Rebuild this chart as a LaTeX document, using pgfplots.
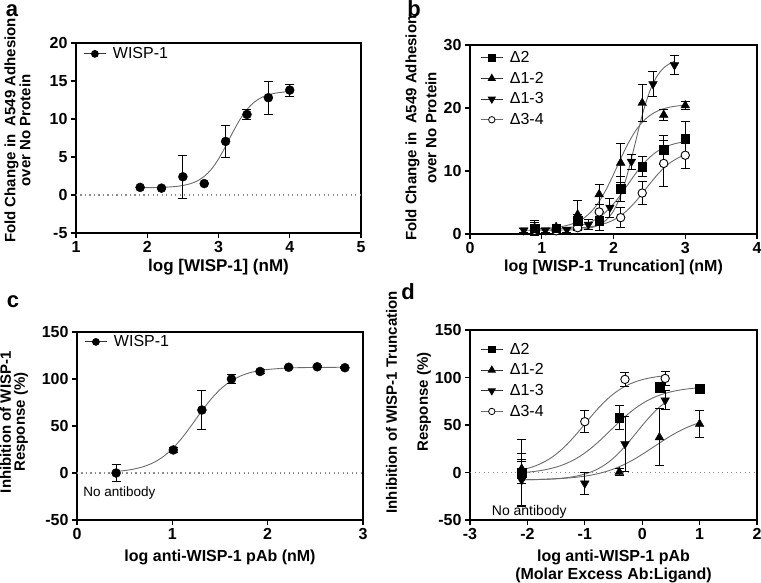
\documentclass[border=0pt]{standalone}
\usepackage{fontspec}
\setmainfont{Liberation Sans}
\usepackage{pgfplots}
\pgfplotsset{compat=1.18}

\definecolor{curve}{gray}{0.42}
\definecolor{zeroline}{gray}{0.55}
\definecolor{legline}{gray}{0.2}

\pgfplotsset{
  panel/.style={
    scale only axis,
    anchor=south west,
    clip=false,
    axis line style={line width=1.3pt, black},
    tick align=outside,
    tick pos=left,
    major tick length=5pt,
    tick style={line width=1.1pt, black},
    /pgf/number format/assume math mode=true,
    tick label style={font=\fontsize{16}{16}\selectfont\bfseries},
    xlabel style={font=\fontsize{16}{18}\selectfont\bfseries, align=center, anchor=center},
    ylabel style={font=\fontsize{15}{14}\selectfont\bfseries, align=center, anchor=center},
    legend style={draw=none, fill=none, font=\fontsize{16}{16}\selectfont,
      anchor=north west, row sep=5pt, inner sep=0pt, nodes={inner sep=1.5pt},
      /tikz/every odd column/.append style={column sep=5pt}},
    legend cell align=left,
    legend image code/.code={\draw[mark repeat=2,mark phase=2] plot coordinates {(0pt,0pt)(11pt,0pt)(22pt,0pt)};},
  },
  fit/.style={curve, line width=0.9pt, no markers, smooth, forget plot},
  zero/.style={zeroline, line width=1.3pt, dash pattern=on 1.3pt off 3.2pt, forget plot},
  pts/.style={only marks, black, forget plot,
    /pgfplots/error bars/y dir=both,
    /pgfplots/error bars/y explicit,
    /pgfplots/error bars/error bar style={line width=0.9pt, black},
    /pgfplots/error bars/error mark options={rotate=90, mark size=4.5pt, line width=0.9pt, black}},
  circ/.style={mark=*, mark size=4.5pt, mark options={solid, fill=black, draw=black}},
  ocirc/.style={mark=*, mark size=4.2pt, mark options={solid, fill=white, draw=black, line width=0.9pt}},
  sq/.style={mark=square*, mark size=4.3pt, mark options={solid, fill=black, draw=black}},
  tup/.style={mark=triangle*, mark size=5pt, mark options={solid, fill=black, draw=black}},
  tdn/.style={mark=triangle*, mark size=5pt, mark options={solid, fill=black, draw=black, rotate=180}},
  leg/.style={legline, line width=1.1pt},
  lcirc/.style={mark=*, mark size=3.3pt, mark options={solid, fill=black, draw=black}},
  locirc/.style={mark=*, mark size=3.2pt, mark options={solid, fill=white, draw=black, line width=0.8pt}},
  lsq/.style={mark=square*, mark size=3.2pt, mark options={solid, fill=black, draw=black}},
  ltup/.style={mark=triangle*, mark size=3.8pt, mark options={solid, fill=black, draw=black}},
  ltdn/.style={mark=triangle*, mark size=3.8pt, mark options={solid, fill=black, draw=black, rotate=180}},
}

% ---------------- data ----------------
\pgfplotstableread{
x y e
1.9 1.0 0
2.2 0.9 0
2.5 2.4 2.85
2.8 1.5 0
3.1 7.05 2.05
3.4 10.6 0.65
3.7 12.8 2.2
4.0 13.8 0.8
}\dataA

\pgfplotstableread{
x y e
0.9 0.9 1.0
1.2 0.9 0.4
1.5 2.1 1.0
1.8 2.1 1.5
2.1 7.2 2.0
2.4 10.7 1.6
2.7 13.4 2.3
3.0 15.1 2.7
}\dataBdA

\pgfplotstableread{
x y e
0.9 1.0 1.2
1.2 1.1 0.4
1.5 3.1 2.3
1.8 6.3 1.6
2.1 11.3 3.1
2.4 20.8 2.9
2.7 18.9 0.8
3.0 20.4 0.6
}\dataBdB

\pgfplotstableread{
x y e
0.75 0.6 0.3
1.05 0.6 0.3
1.35 0.7 0.4
1.65 1.5 0.8
1.95 4.2 1.5
2.25 11.5 1.2
2.55 23.8 2.0
2.85 26.8 1.5
}\dataBdC

\pgfplotstableread{
x y e
0.9 0.6 0.4
1.2 0.5 0.3
1.5 1.0 0.5
1.8 3.5 1.2
2.1 2.6 1.6
2.4 6.5 1.8
2.7 11.2 3.7
3.0 12.5 2.1
}\dataBdD

\pgfplotstableread{
x y e
0.41 0 9
1.01 24.5 3
1.31 67 20.5
1.62 100 5
1.92 108 2
2.22 112.5 1
2.52 113 1
2.81 112 1
}\dataC

\pgfplotstableread{
x y e
-2.1 0 35
-0.4 57.7 12.5
0.3 89.3 5
1.0 88 3
}\dataDdA

\pgfplotstableread{
x y e
-2.1 4 10
-0.4 0.5 4
0.3 37 30
1.0 51 14
}\dataDdB

\pgfplotstableread{
x y e
-2.1 -8 28
-1.0 -11.5 11.5
-0.3 30 29
0.4 76 10
}\dataDdC

\pgfplotstableread{
x y e
-2.1 0 12
-1.0 53.5 11.7
-0.3 98 7
0.4 99 7
}\dataDdD

\begin{document}
\begin{tikzpicture}
\path[use as bounding box] (0pt,0pt) rectangle (761pt,583pt);

% panel labels
\node[font=\fontsize{22}{22}\selectfont\bfseries, anchor=base, inner sep=0pt] at (12pt,566pt) {a};
\node[font=\fontsize{22}{22}\selectfont\bfseries, anchor=base, inner sep=0pt] at (414pt,566pt) {b};
\node[font=\fontsize{22}{22}\selectfont\bfseries, anchor=base, inner sep=0pt] at (13pt,275pt) {c};
\node[font=\fontsize{22}{22}\selectfont\bfseries, anchor=base, inner sep=0pt] at (408pt,283pt) {d};

% ---------------- panel a ----------------
\begin{axis}[panel, at={(76pt,350pt)}, width=285pt, height=190pt,
  xmin=1, xmax=5, ymin=-5, ymax=20,
  xtick={1,2,3,4,5}, ytick={-5,0,5,10,15,20},
  xlabel={log [WISP-1] (nM)},
  xlabel style={at={(axis description cs:0.5,-0.18)}, font=\fontsize{17}{18}\selectfont\bfseries},
  ylabel={Fold Change in\ \ A549 Adhesion\\over No Protein},
  ylabel style={at={(axis description cs:-0.205,0.54)}},
  legend style={at={(axis description cs:0.025,0.985)}},
]
\addplot[zero] coordinates {(1,0) (5,0)};
\addplot[fit] coordinates {(1.9,0.96)(2.0,0.97)(2.1,0.98)(2.2,1.00)(2.3,1.05)(2.4,1.12)(2.5,1.25)(2.6,1.47)(2.7,1.84)(2.8,2.45)(2.9,3.39)(3.0,4.73)(3.1,6.41)(3.2,8.24)(3.3,9.92)(3.4,11.26)(3.5,12.20)(3.6,12.81)(3.7,13.18)(3.8,13.40)(3.9,13.53)(4.0,13.61)};
\addplot[circ, pts] table[x=x, y=y, y error=e] {\dataA};
\addlegendimage{leg, lcirc}
\addlegendentry{WISP-1}
\end{axis}

% ---------------- panel b ----------------
\begin{axis}[panel, at={(470pt,349pt)}, width=287pt, height=189pt,
  xmin=0, xmax=4, ymin=0, ymax=30,
  xtick={0,1,2,3,4}, ytick={0,10,20,30},
  xlabel={log [WISP-1 Truncation] (nM)},
  xlabel style={at={(axis description cs:0.5,-0.175)}},
  ylabel={Fold Change in\ \ A549 Adhesion\\[5pt]over No Protein},
  ylabel style={at={(axis description cs:-0.171,0.56)}},
  legend style={at={(axis description cs:0.035,0.975)}},
]
\addplot[fit] coordinates {(0.9,0.74)(1.0,0.76)(1.1,0.79)(1.2,0.84)(1.3,0.92)(1.4,1.05)(1.5,1.25)(1.6,1.55)(1.7,2.00)(1.8,2.66)(1.9,3.57)(2.0,4.77)(2.1,6.23)(2.2,7.85)(2.3,9.47)(2.4,10.93)(2.5,12.13)(2.6,13.04)(2.7,13.70)(2.8,14.15)(2.9,14.45)(3.0,14.65)};
\addplot[fit] coordinates {(0.9,0.86)(1.0,0.90)(1.1,0.96)(1.2,1.06)(1.3,1.23)(1.4,1.51)(1.5,1.95)(1.6,2.64)(1.7,3.67)(1.8,5.15)(1.9,7.11)(2.0,9.45)(2.1,11.95)(2.2,14.29)(2.3,16.25)(2.4,17.73)(2.5,18.76)(2.6,19.45)(2.7,19.89)(2.8,20.17)(2.9,20.34)(3.0,20.44)};
\addplot[fit] coordinates {(0.75,0.60)(0.9,0.60)(1.0,0.60)(1.1,0.61)(1.2,0.61)(1.3,0.63)(1.4,0.65)(1.5,0.71)(1.6,0.82)(1.7,1.03)(1.8,1.44)(1.9,2.23)(2.0,3.66)(2.1,6.10)(2.2,9.75)(2.3,14.30)(2.4,18.85)(2.5,22.50)(2.6,24.93)(2.7,26.37)(2.8,27.16)(2.85,27.40)};
\addplot[fit] coordinates {(0.9,0.81)(1.0,0.82)(1.1,0.83)(1.2,0.84)(1.3,0.86)(1.4,0.90)(1.5,0.96)(1.6,1.05)(1.7,1.19)(1.8,1.41)(1.9,1.74)(2.0,2.22)(2.1,2.91)(2.2,3.85)(2.3,5.04)(2.4,6.42)(2.5,7.88)(2.6,9.26)(2.7,10.45)(2.8,11.39)(2.9,12.08)(3.0,12.56)};
\addplot[ocirc, pts] table[x=x, y=y, y error=e] {\dataBdD};
\addplot[tdn, pts] table[x=x, y=y, y error=e] {\dataBdC};
\addplot[tup, pts] table[x=x, y=y, y error=e] {\dataBdB};
\addplot[sq, pts] table[x=x, y=y, y error=e] {\dataBdA};
\addlegendimage{leg, lsq}
\addlegendentry{Δ2}
\addlegendimage{leg, ltup}
\addlegendentry{Δ1-2}
\addlegendimage{leg, ltdn}
\addlegendentry{Δ1-3}
\addlegendimage{curve, line width=1.1pt, locirc}
\addlegendentry{Δ3-4}
\end{axis}

% ---------------- panel c ----------------
\begin{axis}[panel, at={(77pt,63pt)}, width=286pt, height=188pt,
  xmin=0, xmax=3, ymin=-50, ymax=150,
  xtick={0,1,2,3}, ytick={-50,0,50,100,150},
  xlabel={log anti-WISP-1 pAb (nM)},
  xlabel style={at={(axis description cs:0.5,-0.197)}},
  ylabel={Inhibition of WISP-1\\Response (\%)},
  ylabel style={at={(axis description cs:-0.22,0.52)}},
  legend style={at={(axis description cs:0.025,0.99)}},
]
\addplot[zero] coordinates {(0,0) (3,0)};
\addplot[fit] coordinates {(0.41,1.65)(0.5,2.59)(0.6,4.23)(0.7,6.85)(0.8,10.93)(0.9,17.05)(1.0,25.73)(1.1,37.10)(1.2,50.57)(1.3,64.73)(1.4,77.88)(1.5,88.72)(1.6,96.87)(1.7,102.53)(1.8,106.27)(1.9,108.66)(2.0,110.15)(2.2,111.64)(2.4,112.19)(2.6,112.39)(2.81,112.47)};
\addplot[circ, pts] table[x=x, y=y, y error=e] {\dataC};
\node[anchor=west, font=\fontsize{13.5}{14}\selectfont] at (axis cs:0.03,-21) {No antibody};
\addlegendimage{leg, lcirc}
\addlegendentry{WISP-1}
\end{axis}

% ---------------- panel d ----------------
\begin{axis}[panel, at={(470pt,63pt)}, width=287pt, height=190pt,
  xmin=-3, xmax=2, ymin=-50, ymax=150,
  xtick={-3,-2,-1,0,1,2}, ytick={-50,0,50,100,150},
  xlabel={log anti-WISP-1 pAb\\(Molar Excess Ab:Ligand)},
  xlabel style={at={(axis description cs:0.5,-0.242)}},
  ylabel={Inhibition of WISP-1 Truncation\\[17pt]Response (\%)},
  ylabel style={at={(axis description cs:-0.214,0.62)}},
  legend style={at={(axis description cs:0.035,0.94)}},
]
\addplot[zero] coordinates {(-3,0) (2,0)};
\addplot[fit] coordinates {(-2.1,-0.20)(-2.0,0.30)(-1.9,0.95)(-1.8,1.76)(-1.7,2.79)(-1.6,4.08)(-1.5,5.69)(-1.4,7.68)(-1.3,10.11)(-1.2,13.02)(-1.1,16.49)(-1.0,20.54)(-0.9,25.14)(-0.8,30.25)(-0.7,35.77)(-0.6,41.56)(-0.5,47.44)(-0.4,53.23)(-0.3,58.74)(-0.2,63.86)(-0.1,68.45)(0.0,72.52)(0.1,75.97)(0.2,78.90)(0.3,81.33)(0.4,83.31)(0.5,84.92)(0.6,86.21)(0.7,87.23)(0.8,88.05)(0.9,88.70)(1.0,89.20)};
\addplot[fit] coordinates {(-2.1,-7.65)(-2.0,-7.56)(-1.9,-7.45)(-1.8,-7.31)(-1.7,-7.13)(-1.6,-6.91)(-1.5,-6.63)(-1.4,-6.28)(-1.3,-5.85)(-1.2,-5.32)(-1.1,-4.66)(-1.0,-3.85)(-0.9,-2.85)(-0.8,-1.64)(-0.7,-0.17)(-0.6,1.58)(-0.5,3.64)(-0.4,6.05)(-0.3,8.82)(-0.2,11.93)(-0.1,15.37)(0.0,19.08)(0.1,22.99)(0.2,27.00)(0.3,31.01)(0.4,34.92)(0.5,38.63)(0.6,42.07)(0.7,45.19)(0.8,47.96)(0.9,50.36)(1.0,52.42)};
\addplot[fit] coordinates {(-2.1,-7.75)(-2.0,-7.66)(-1.9,-7.55)(-1.8,-7.39)(-1.7,-7.18)(-1.6,-6.89)(-1.5,-6.51)(-1.4,-6.00)(-1.3,-5.32)(-1.2,-4.42)(-1.1,-3.23)(-1.0,-1.67)(-0.9,0.36)(-0.8,2.95)(-0.7,6.23)(-0.6,10.29)(-0.5,15.20)(-0.4,20.94)(-0.3,27.46)(-0.2,34.57)(-0.1,42.00)(0.0,49.43)(0.1,56.54)(0.2,63.06)(0.3,68.80)(0.4,73.71)};
\addplot[fit] coordinates {(-2.1,2.84)(-2.0,4.29)(-1.9,6.14)(-1.8,8.47)(-1.7,11.38)(-1.6,14.96)(-1.5,19.28)(-1.4,24.37)(-1.3,30.21)(-1.2,36.71)(-1.1,43.73)(-1.0,51.00)(-0.9,58.27)(-0.8,65.28)(-0.7,71.79)(-0.6,77.63)(-0.5,82.72)(-0.4,87.04)(-0.3,90.62)(-0.2,93.53)(-0.1,95.86)(0.0,97.71)(0.1,99.16)(0.2,100.29)(0.3,101.16)(0.4,101.83)};
\addplot[tdn, pts] table[x=x, y=y, y error=e] {\dataDdC};
\addplot[tup, pts] table[x=x, y=y, y error=e] {\dataDdB};
\addplot[ocirc, pts] table[x=x, y=y, y error=e] {\dataDdD};
\addplot[sq, pts] table[x=x, y=y, y error=e] {\dataDdA};
\node[anchor=west, font=\fontsize{14}{14}\selectfont] at (axis cs:-2.68,-41) {No antibody};
\addlegendimage{leg, lsq}
\addlegendentry{Δ2}
\addlegendimage{leg, ltup}
\addlegendentry{Δ1-2}
\addlegendimage{leg, ltdn}
\addlegendentry{Δ1-3}
\addlegendimage{curve, line width=1.1pt, locirc}
\addlegendentry{Δ3-4}
\end{axis}
\end{tikzpicture}
\end{document}
